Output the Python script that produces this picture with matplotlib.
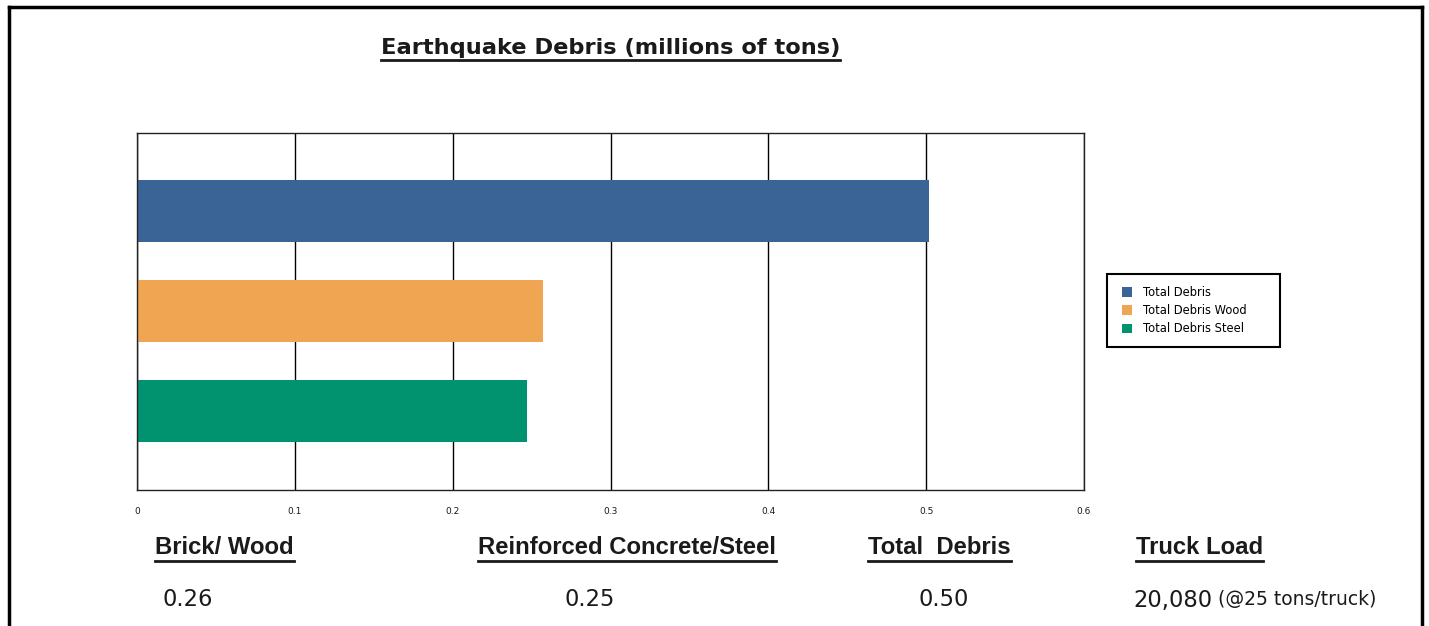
import matplotlib
matplotlib.use("Agg")
import matplotlib.pyplot as plt
from matplotlib.lines import Line2D
from matplotlib.patches import Patch, Rectangle

plt.rcParams['font.family'] = ['Liberation Sans', 'DejaVu Sans']

# data
series = ['Total Debris', 'Total Debris Wood', 'Total Debris Steel']
values = [0.502, 0.257, 0.247]
colors = ['#3A6496', '#F0A553', '#01926F']
xticks = [0, 0.1, 0.2, 0.3, 0.4, 0.5, 0.6]
summary_heads = ['Brick/ Wood', 'Reinforced Concrete/Steel', 'Total  Debris', 'Truck Load']
summary_vals = ['0.26', '0.25', '0.50', '20,080']
truck_note = '(@25 tons/truck)'

W, H = 1429, 626
fig = plt.figure(figsize=(W / 100, H / 100), dpi=100)
ink = '#1a1a1a'

def fx(px):
    return px / W

def fy(py):
    return 1 - py / H

# outer frame (bottom edge cut off in the reference)
for xs, ys in [([9, 9], [7, 630]), ([9, 1422], [7, 7]), ([1422, 1422], [7, 630])]:
    fig.add_artist(Line2D([fx(x) for x in xs], [fy(y) for y in ys],
                          color='black', lw=2.5, transform=fig.transFigure))

ax = fig.add_axes([fx(137), fy(490), fx(1084) - fx(137), (490 - 133) / H])
ypos = list(range(len(series)))
ax.barh(ypos, values, height=0.62, color=colors)
ax.set_xlim(0, 0.6)
ax.set_ylim(2.79, -0.78)
ax.set_xticks(xticks)
ax.set_xticklabels([f'{t:g}' for t in xticks], fontsize=6.5, family='DejaVu Sans')
ax.set_yticks([])
ax.tick_params(axis='x', length=0, pad=12, colors=ink)
ax.grid(axis='x', color='black', lw=1)
ax.set_axisbelow(True)
for s in ax.spines.values():
    s.set_color('#222222')
    s.set_linewidth(1)

# legend box drawn by hand, entries placed inside it
fig.add_artist(Rectangle((fx(1107), fy(347)), fx(1280) - fx(1107), (347 - 274) / H,
                         transform=fig.transFigure, fill=False, ec='black', lw=1.5))
handles = [Patch(facecolor=c, label=l) for c, l in zip(colors, series)]
fig.legend(handles=handles, loc='upper left', bbox_to_anchor=(fx(1122), fy(286)),
           prop={'family': 'DejaVu Sans', 'size': 8.3}, frameon=False,
           handlelength=0.9, handleheight=0.9, handletextpad=0.9,
           labelspacing=0.45, borderpad=0, borderaxespad=0)

def header(x, y, s, size, family='Liberation Sans'):
    return fig.text(fx(x), fy(y), s, fontsize=size, fontweight='bold', family=family,
                    ha='left', va='center', color=ink)

title = header(381, 48, 'Earthquake Debris (millions of tons)', 16.2, 'DejaVu Sans')
heads = []
for x, s in zip([155, 478, 868, 1136], summary_heads):
    heads.append(header(x, 547, s, 17.2))

for x, s in zip([163, 565, 918, 1133], summary_vals):
    fig.text(fx(x), fy(600), s, fontsize=16.3, family='DejaVu Sans',
             ha='left', va='center', color=ink)

fig.canvas.draw()
r = fig.canvas.get_renderer()
vt = [t for t in fig.texts if t.get_text() == '20,080'][0]
bb = vt.get_window_extent(r)
fig.text(bb.x1 / W + fx(6), fy(600), truck_note, fontsize=13.5, family='DejaVu Sans',
         ha='left', va='center', color=ink)

for t in [title] + heads:
    bb = t.get_window_extent(r)
    yline = bb.y0 - 2
    fig.add_artist(Line2D([bb.x0 / W, bb.x1 / W], [yline / H, yline / H],
                          color=ink, lw=2, transform=fig.transFigure))

fig.savefig('out.png', dpi=100)
